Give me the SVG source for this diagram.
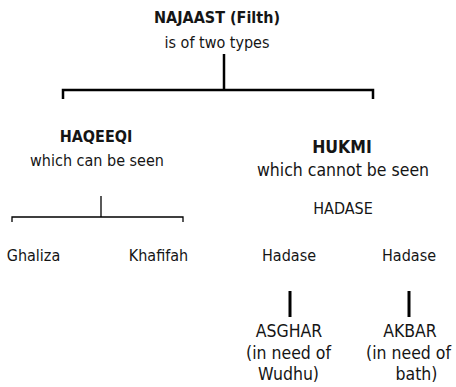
<svg xmlns="http://www.w3.org/2000/svg" width="456" height="387" viewBox="0 0 456 387">
<style>
text{font-family:"DejaVu Sans Condensed","DejaVu Sans",sans-serif;font-stretch:condensed;fill:#151515;text-anchor:middle}
.b{font-weight:bold}
.s16{font-size:16px}
.s17{font-size:17.5px}
.thick{stroke:#000;stroke-width:2.5;fill:none}
.thin{stroke:#000;stroke-width:1.3;fill:none}
.bar{stroke:#000;stroke-width:3;fill:none}
</style>
<rect width="456" height="387" fill="#fff"/>
<g id="connectors">
<path class="thick" d="M224,54 V90"/>
<path class="thick" d="M63,99 V90 H373 V99"/>
<path class="thin" d="M101,196 V217"/>
<path class="thin" d="M12,222 V217 H183 V222"/>
<path class="bar" d="M290,291 V317"/>
<path class="bar" d="M409,291 V317"/>
</g>
<g id="najaast">
<text class="b s16" x="217" y="23">NAJAAST (Filth)</text>
<text class="s16" x="217" y="48">is of two types</text>
</g>
<g id="haqeeqi">
<text class="b s16" x="96" y="142">HAQEEQI</text>
<text class="s16" x="97" y="166">which can be seen</text>
</g>
<g id="hukmi">
<text class="b s17" x="342" y="153">HUKMI</text>
<text class="s17" x="343" y="176">which cannot be seen</text>
</g>
<g id="hadase">
<text class="s16" x="343" y="214">HADASE</text>
</g>
<g id="ghaliza">
<text class="s16" x="33.5" y="261">Ghaliza</text>
</g>
<g id="khafifah">
<text class="s16" x="158.5" y="261">Khafifah</text>
</g>
<g id="hadase1">
<text class="s16" x="289" y="261">Hadase</text>
</g>
<g id="hadase2">
<text class="s16" x="409" y="261">Hadase</text>
</g>
<g id="asghar">
<text class="s17" x="289" y="337">ASGHAR</text>
<text class="s17" x="288.5" y="358.5">(in need of</text>
<text class="s17" x="288.5" y="380">Wudhu)</text>
</g>
<g id="akbar">
<text class="s17" x="410" y="337">AKBAR</text>
<text class="s17" x="408.5" y="358.5">(in need of</text>
<text class="s17" x="416.5" y="380">bath)</text>
</g>
</svg>
